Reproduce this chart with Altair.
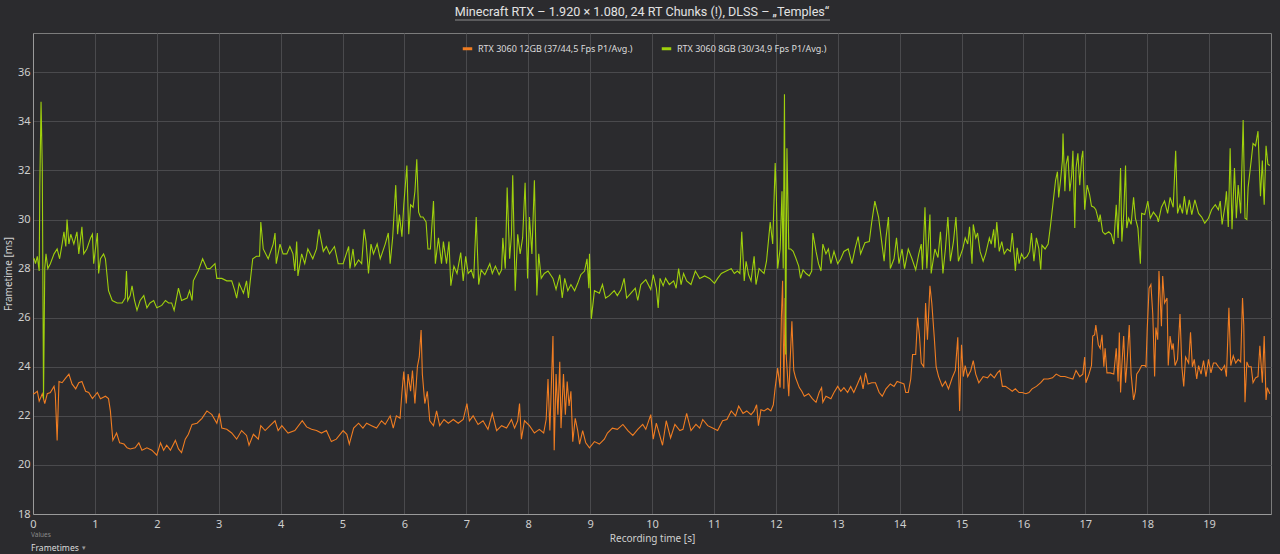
import altair as alt
import pandas as pd

NAME_12 = "RTX 3060 12GB (37/44,5 Fps P1/Avg.)"
NAME_8 = "RTX 3060 8GB (30/34,9 Fps P1/Avg.)"
TITLE = "Minecraft RTX \u2013 1.920 \u00d7 1.080, 24 RT Chunks (!), DLSS \u2013 \u201eTemples\u201c"

# (time [s], frametime [ms]), RTX 3060 8GB
g8_a = [(0.00, 28.4), (0.02, 28.4), (0.04, 28.2), (0.07, 28.5), (0.10, 27.9), (0.11, 31.3), (0.13, 34.8),
        (0.15, 32.1), (0.17, 22.7), (0.19, 28.0), (0.21, 28.6), (0.24, 28.0), (0.28, 28.2), (0.34, 28.6),
        (0.39, 28.8), (0.43, 28.4), (0.47, 29.0), (0.50, 29.5), (0.53, 28.9), (0.55, 30.0), (0.58, 29.0),
        (0.61, 29.4), (0.66, 29.0), (0.71, 29.5), (0.74, 28.6), (0.77, 29.25), (0.79, 29.7), (0.82, 28.6),
        (0.87, 28.8), (0.93, 29.25), (0.96, 29.4), (0.98, 28.2), (1.04, 29.45), (1.06, 27.8), (1.09, 28.4),
        (1.14, 28.6), (1.17, 28.4), (1.22, 27.1), (1.28, 26.7), (1.36, 26.6), (1.44, 26.6), (1.49, 26.8),
        (1.51, 27.9), (1.53, 26.7), (1.57, 26.9), (1.60, 27.3), (1.64, 26.7), (1.68, 26.3), (1.73, 26.7),
        (1.79, 26.9), (1.84, 26.4), (1.89, 26.6), (1.95, 26.7), (2.00, 26.4), (2.08, 26.5), (2.14, 26.7),
        (2.19, 26.6), (2.24, 26.6), (2.28, 26.3), (2.35, 27.2), (2.40, 26.7), (2.49, 26.8), (2.53, 27.1),
        (2.57, 26.7), (2.59, 27.5), (2.67, 27.9), (2.74, 28.4), (2.81, 28.0), (2.86, 28.0), (2.94, 28.2),
        (2.97, 27.6), (3.05, 27.6), (3.13, 27.5), (3.21, 27.5), (3.26, 27.1), (3.29, 26.8), (3.33, 27.4),
        (3.40, 27.0), (3.45, 27.5), (3.48, 26.8), (3.51, 27.5), (3.55, 28.4), (3.61, 28.5), (3.66, 28.5),
        (3.68, 29.9), (3.72, 28.8), (3.80, 28.4), (3.88, 29.0), (3.91, 29.45), (3.93, 28.2), (3.99, 29.0),
        (4.04, 28.6), (4.10, 28.6), (4.15, 28.9), (4.20, 28.6), (4.23, 27.9), (4.26, 29.1), (4.28, 27.7),
        (4.34, 28.6), (4.39, 28.2), (4.44, 28.8), (4.52, 28.4), (4.58, 28.8), (4.62, 29.6), (4.69, 28.7),
        (4.74, 28.9), (4.79, 28.6), (4.87, 28.9), (4.93, 28.2), (5.01, 28.2)]
g8_b = [(5.10, 28.9), (5.12, 28.0), (5.17, 28.8), (5.20, 28.1), (5.26, 28.35), (5.31, 28.2), (5.35, 29.6),
        (5.38, 29.1), (5.42, 27.8), (5.46, 29.0), (5.50, 28.6), (5.56, 29.0), (5.61, 28.4), (5.69, 29.0),
        (5.74, 29.45), (5.77, 28.2), (5.81, 29.25), (5.86, 31.4), (5.89, 29.4), (5.92, 30.2), (5.96, 29.3),
        (5.99, 30.6), (6.04, 32.2), (6.07, 29.4), (6.10, 30.6), (6.14, 30.5), (6.17, 31.15), (6.20, 32.45),
        (6.23, 30.3), (6.26, 30.1), (6.30, 30.1), (6.35, 29.9), (6.38, 28.8), (6.42, 28.8), (6.47, 30.75),
        (6.50, 28.2), (6.55, 29.25), (6.60, 28.2), (6.63, 29.1), (6.68, 28.2), (6.72, 29.1), (6.75, 27.3),
        (6.80, 28.1), (6.85, 27.8), (6.91, 28.65), (6.95, 27.5), (6.99, 28.5), (7.03, 27.8), (7.08, 27.95),
        (7.12, 27.6), (7.16, 30.1), (7.20, 27.35), (7.24, 27.95), (7.30, 27.75), (7.38, 28.2), (7.42, 27.8),
        (7.47, 28.1), (7.53, 27.75), (7.57, 27.95), (7.59, 29.25), (7.63, 28.0), (7.66, 31.3), (7.70, 28.4),
        (7.73, 29.4), (7.75, 31.8), (7.79, 27.1), (7.83, 29.4), (7.87, 28.6), (7.91, 29.25), (7.95, 31.5),
        (7.98, 28.6), (7.99, 27.6), (8.02, 30.1), (8.06, 28.6), (8.10, 31.6), (8.14, 26.9), (8.17, 28.6),
        (8.21, 27.6), (8.26, 27.8), (8.32, 27.9), (8.40, 27.6), (8.45, 27.15), (8.51, 27.75), (8.55, 26.8),
        (8.59, 27.6), (8.64, 27.1), (8.69, 27.35), (8.75, 27.1), (8.80, 27.4), (8.85, 27.75), (8.91, 27.9),
        (8.95, 28.4), (8.98, 27.2), (8.99, 28.6), (9.02, 25.95), (9.07, 27.1), (9.15, 27.0), (9.20, 27.35),
        (9.25, 26.8), (9.31, 26.9), (9.39, 27.1), (9.44, 26.9), (9.50, 27.15), (9.55, 27.6), (9.59, 26.8),
        (9.66, 27.0), (9.73, 27.2), (9.77, 26.7), (9.82, 27.35), (9.90, 27.55), (9.98, 27.15)]
g8_c = [(10.02, 27.75), (10.07, 27.2), (10.10, 26.4), (10.13, 27.6), (10.18, 27.3), (10.22, 27.6),
        (10.28, 27.35), (10.35, 27.5), (10.39, 27.2), (10.43, 28.0), (10.47, 27.35), (10.51, 27.8),
        (10.56, 27.5), (10.63, 27.35), (10.70, 27.9), (10.77, 27.6), (10.85, 27.7), (10.93, 27.6),
        (11.01, 27.4), (11.06, 27.6), (11.12, 27.8), (11.20, 27.9), (11.28, 28.0), (11.33, 27.8),
        (11.38, 27.9), (11.42, 27.8), (11.45, 29.5), (11.49, 27.5), (11.52, 28.3), (11.56, 27.75),
        (11.60, 27.5), (11.65, 28.5), (11.68, 27.35), (11.73, 28.0), (11.81, 27.8), (11.85, 28.3),
        (11.91, 29.9), (11.95, 29.0), (11.99, 32.3), (12.01, 30.9), (12.03, 28.0), (12.07, 28.8),
        (12.10, 31.15), (12.12, 28.0), (12.14, 35.1), (12.16, 24.5), (12.18, 32.9), (12.21, 28.8),
        (12.24, 28.8), (12.28, 28.7), (12.32, 28.45), (12.37, 28.1), (12.40, 27.6), (12.44, 27.95),
        (12.49, 27.8), (12.54, 27.7), (12.58, 27.9), (12.60, 29.45), (12.65, 28.7), (12.69, 28.2),
        (12.73, 27.9), (12.76, 29.0), (12.81, 28.6), (12.85, 28.8), (12.89, 28.2), (12.94, 28.7),
        (13.00, 28.2), (13.05, 28.4), (13.10, 28.7), (13.17, 28.8), (13.23, 28.2), (13.28, 28.8),
        (13.33, 29.3), (13.37, 28.6), (13.44, 29.05), (13.51, 29.1), (13.55, 29.9), (13.60, 30.75),
        (13.66, 30.1), (13.71, 29.1), (13.75, 28.3), (13.78, 29.25), (13.82, 30.1), (13.85, 28.0),
        (13.91, 28.4), (13.95, 29.25), (13.99, 28.2), (14.04, 28.8), (14.08, 28.0), (14.14, 28.8),
        (14.20, 28.4), (14.26, 27.95), (14.31, 28.6), (14.35, 29.0), (14.37, 27.95), (14.41, 30.5),
        (14.44, 28.0), (14.49, 30.2), (14.51, 27.8), (14.57, 28.8), (14.62, 28.45), (14.66, 29.5),
        (14.70, 27.8), (14.74, 28.8), (14.78, 30.1), (14.82, 28.3), (14.87, 29.1), (14.91, 30.1),
        (14.95, 28.3)]
g8_d = [(15.02, 28.8), (15.06, 29.25), (15.10, 29.0), (15.13, 29.7), (15.17, 28.2), (15.19, 29.8),
        (15.23, 29.25), (15.26, 29.45), (15.30, 28.7), (15.35, 28.3), (15.39, 28.6), (15.45, 29.25),
        (15.48, 29.0), (15.52, 29.6), (15.54, 28.85), (15.57, 29.9), (15.61, 28.7), (15.65, 29.1),
        (15.69, 28.6), (15.74, 28.8), (15.79, 28.7), (15.82, 29.45), (15.85, 28.6), (15.87, 27.9),
        (15.90, 28.85), (15.93, 28.2), (15.97, 28.6), (16.01, 28.4), (16.06, 28.5), (16.10, 28.7),
        (16.13, 29.45), (16.17, 28.3), (16.21, 29.25), (16.25, 28.8), (16.28, 27.95), (16.30, 28.95),
        (16.35, 28.8), (16.40, 29.0), (16.44, 29.8), (16.48, 30.7), (16.52, 31.6), (16.55, 31.95),
        (16.57, 30.9), (16.60, 31.6), (16.63, 32.4), (16.64, 33.5), (16.67, 31.15), (16.69, 32.25),
        (16.72, 32.6), (16.75, 31.15), (16.78, 31.8), (16.80, 32.8), (16.83, 29.65), (16.85, 32.1),
        (16.88, 32.7), (16.91, 31.4), (16.94, 32.5), (16.96, 32.8), (16.99, 30.4), (17.03, 31.4),
        (17.07, 31.0), (17.10, 30.55), (17.14, 30.5), (17.17, 30.4), (17.22, 29.9), (17.24, 30.2),
        (17.28, 29.5), (17.32, 29.4), (17.38, 29.5), (17.42, 29.4), (17.46, 29.0), (17.50, 30.6),
        (17.53, 29.25), (17.57, 32.1), (17.59, 29.1), (17.62, 30.2), (17.65, 32.2), (17.67, 29.65),
        (17.70, 30.05), (17.74, 29.8), (17.78, 30.9), (17.81, 30.05), (17.85, 29.65), (17.89, 28.2),
        (17.91, 30.25), (17.96, 30.2), (18.01, 30.75), (18.05, 30.05), (18.10, 30.3), (18.16, 30.1),
        (18.18, 29.9), (18.23, 30.5), (18.28, 30.75), (18.33, 30.25), (18.37, 30.9), (18.42, 30.5),
        (18.46, 32.8), (18.49, 30.25), (18.53, 30.6), (18.57, 30.25), (18.60, 30.95), (18.64, 30.2),
        (18.68, 30.8), (18.72, 30.2), (18.77, 30.8), (18.83, 30.25), (18.88, 30.1), (18.93, 29.85),
        (18.99, 30.05), (19.04, 30.4), (19.10, 30.6), (19.15, 30.4), (19.18, 30.75), (19.21, 29.8),
        (19.26, 30.6), (19.28, 31.15), (19.31, 29.7), (19.34, 32.9), (19.37, 29.6), (19.41, 32.1),
        (19.44, 30.05), (19.47, 31.4), (19.51, 30.25), (19.55, 34.05), (19.58, 30.05), (19.61, 30.0),
        (19.63, 31.3), (19.68, 32.4), (19.71, 33.1), (19.75, 33.0), (19.79, 33.6), (19.83, 30.95),
        (19.86, 32.4), (19.89, 30.6), (19.92, 33.0), (19.95, 32.25), (19.98, 32.2)]

# (time [s], frametime [ms]), RTX 3060 12GB
o12_a = [(0.00, 22.9), (0.02, 22.9), (0.07, 23.0), (0.10, 22.6), (0.15, 22.9), (0.19, 22.5), (0.23, 22.9),
         (0.28, 22.95), (0.34, 23.2), (0.36, 22.9), (0.39, 21.0), (0.42, 23.4), (0.47, 23.35), (0.53, 23.55),
         (0.58, 23.7), (0.63, 23.3), (0.69, 23.1), (0.74, 23.35), (0.79, 23.4), (0.85, 23.0), (0.90, 22.95),
         (0.96, 22.7), (1.04, 22.95), (1.09, 22.7), (1.17, 22.8), (1.22, 22.7), (1.25, 22.2), (1.29, 21.0),
         (1.35, 21.3), (1.40, 20.9), (1.47, 20.85), (1.52, 20.7), (1.57, 20.65), (1.65, 20.7), (1.71, 20.9),
         (1.76, 20.6), (1.84, 20.7), (1.92, 20.6), (2.00, 20.4), (2.06, 20.9), (2.11, 20.6), (2.16, 20.8),
         (2.22, 20.6), (2.30, 21.0), (2.35, 20.65), (2.40, 20.5), (2.46, 21.05), (2.51, 21.25), (2.57, 21.65),
         (2.65, 21.7), (2.73, 21.9), (2.81, 22.2), (2.89, 22.05), (2.97, 21.7), (3.01, 22.1), (3.05, 21.5),
         (3.13, 21.45), (3.21, 21.3), (3.29, 21.05), (3.37, 21.4), (3.45, 21.2), (3.49, 20.8), (3.56, 21.25),
         (3.64, 21.05), (3.68, 21.6), (3.75, 21.4), (3.83, 21.6), (3.91, 21.8), (3.96, 21.4), (4.02, 21.6),
         (4.12, 21.3), (4.23, 21.4), (4.35, 21.8), (4.42, 21.55), (4.50, 21.45), (4.58, 21.4), (4.66, 21.3),
         (4.74, 21.4), (4.82, 20.95), (4.90, 21.05), (5.01, 21.4)]
o12_b = [(5.07, 21.25), (5.11, 20.85), (5.18, 21.5), (5.26, 21.7), (5.33, 21.5), (5.39, 21.7), (5.47, 21.6),
         (5.55, 21.5), (5.63, 21.8), (5.69, 21.65), (5.77, 22.0), (5.82, 21.5), (5.87, 22.0), (5.93, 21.9),
         (5.96, 22.95), (5.99, 23.8), (6.03, 22.5), (6.06, 23.7), (6.10, 23.0), (6.13, 23.85), (6.17, 22.5),
         (6.21, 24.0), (6.24, 24.4), (6.27, 25.5), (6.29, 23.7), (6.33, 22.5), (6.37, 23.0), (6.41, 21.8),
         (6.47, 21.6), (6.52, 22.2), (6.57, 21.6), (6.64, 21.85), (6.71, 21.7), (6.79, 21.85), (6.87, 21.7),
         (6.95, 21.85), (7.01, 22.5), (7.05, 21.8), (7.11, 22.0), (7.19, 21.65), (7.27, 21.8), (7.35, 21.45),
         (7.42, 22.1), (7.49, 21.4), (7.57, 21.6), (7.65, 21.5), (7.73, 21.85), (7.78, 21.5), (7.83, 21.8),
         (7.86, 22.5), (7.89, 21.05), (7.94, 21.8), (8.02, 21.6), (8.10, 21.3), (8.18, 21.45), (8.25, 21.3),
         (8.29, 21.85), (8.32, 23.5), (8.35, 21.4), (8.40, 25.25), (8.42, 20.6), (8.45, 23.7), (8.48, 22.05),
         (8.51, 24.2), (8.53, 21.5), (8.57, 23.7), (8.60, 22.05), (8.63, 23.4), (8.66, 22.4), (8.69, 23.0),
         (8.72, 20.95), (8.76, 21.9), (8.80, 21.4), (8.83, 20.85), (8.88, 21.4), (8.93, 20.9), (8.99, 20.7),
         (9.07, 20.95), (9.15, 20.85), (9.23, 21.05), (9.28, 21.3), (9.36, 21.5), (9.44, 21.45), (9.53, 21.65),
         (9.61, 21.4), (9.69, 21.2), (9.77, 21.45), (9.85, 21.65), (9.90, 21.45), (9.98, 22.05)]
o12_c = [(10.02, 21.05), (10.07, 21.7), (10.12, 21.25), (10.17, 20.8), (10.23, 21.8), (10.30, 21.1),
         (10.37, 21.65), (10.45, 21.4), (10.50, 21.45), (10.56, 22.1), (10.63, 21.4), (10.71, 21.65),
         (10.77, 21.5), (10.82, 21.85), (10.90, 21.6), (10.98, 21.5), (11.06, 21.4), (11.14, 21.8),
         (11.21, 21.85), (11.28, 22.2), (11.35, 22.0), (11.40, 22.4), (11.47, 22.1), (11.53, 22.2),
         (11.60, 22.05), (11.65, 22.2), (11.69, 22.45), (11.72, 21.6), (11.76, 22.25), (11.81, 22.2),
         (11.87, 22.3), (11.92, 22.2), (11.96, 22.45), (11.99, 23.15), (12.03, 23.95), (12.07, 23.15),
         (12.09, 26.0), (12.11, 27.5), (12.13, 23.1), (12.15, 26.8), (12.17, 24.4), (12.21, 22.8),
         (12.23, 24.15), (12.26, 25.85), (12.29, 23.85), (12.32, 23.55), (12.38, 23.15), (12.42, 23.0),
         (12.46, 22.8), (12.53, 22.9), (12.59, 22.7), (12.65, 22.55), (12.70, 22.95), (12.74, 23.15),
         (12.76, 22.55), (12.81, 22.8), (12.89, 22.7), (12.94, 22.95), (13.00, 23.2), (13.05, 23.0),
         (13.10, 23.15), (13.16, 22.95), (13.21, 23.2), (13.26, 22.95), (13.32, 23.3), (13.37, 23.6),
         (13.41, 23.1), (13.45, 23.75), (13.49, 23.3), (13.55, 23.35), (13.61, 23.35), (13.67, 22.95),
         (13.72, 22.8), (13.78, 23.1), (13.85, 23.3), (13.91, 23.2), (13.96, 23.4), (14.02, 23.35),
         (14.07, 23.3), (14.10, 22.95), (14.14, 22.95), (14.18, 23.5), (14.21, 24.5), (14.26, 24.5),
         (14.29, 26.0), (14.32, 25.3), (14.35, 24.15), (14.39, 24.0), (14.42, 26.6), (14.45, 25.1),
         (14.49, 27.3), (14.52, 26.6), (14.56, 25.2), (14.59, 24.0), (14.63, 23.6), (14.69, 23.2),
         (14.74, 23.4), (14.79, 23.1), (14.85, 23.55), (14.90, 23.85), (14.94, 25.2), (14.97, 22.2),
         (15.00, 24.9), (15.03, 23.6), (15.06, 24.05), (15.10, 23.6)]
o12_d = [(15.15, 23.85), (15.19, 24.25), (15.23, 23.7), (15.28, 23.35), (15.35, 23.6), (15.42, 23.55),
         (15.47, 23.7), (15.53, 23.55), (15.58, 23.75), (15.62, 23.85), (15.66, 23.2), (15.71, 23.2),
         (15.77, 23.1), (15.82, 23.0), (15.87, 23.1), (15.93, 22.95), (15.98, 22.95), (16.04, 22.9),
         (16.09, 22.95), (16.14, 23.1), (16.21, 23.2), (16.28, 23.35), (16.33, 23.5), (16.40, 23.5),
         (16.47, 23.55), (16.53, 23.7), (16.60, 23.6), (16.67, 23.6), (16.73, 23.55), (16.80, 23.5),
         (16.85, 23.85), (16.91, 23.6), (16.96, 23.7), (16.99, 24.4), (17.01, 23.35), (17.06, 23.7),
         (17.10, 24.05), (17.12, 25.25), (17.15, 25.3), (17.17, 25.7), (17.21, 24.9), (17.24, 24.75),
         (17.27, 25.3), (17.30, 24.0), (17.32, 24.75), (17.35, 23.75), (17.40, 23.75), (17.46, 23.7),
         (17.50, 24.75), (17.53, 23.4), (17.55, 25.4), (17.57, 22.95), (17.59, 24.05), (17.62, 25.25),
         (17.65, 23.35), (17.67, 24.0), (17.71, 25.7), (17.74, 23.7), (17.78, 22.65), (17.81, 23.0),
         (17.83, 23.7), (17.87, 23.85), (17.91, 24.05), (17.96, 24.05), (17.98, 24.0), (18.00, 25.5),
         (18.03, 27.2), (18.06, 27.35), (18.09, 26.15), (18.12, 23.6), (18.14, 25.6), (18.17, 25.1),
         (18.19, 27.9), (18.23, 25.65), (18.25, 27.7), (18.28, 26.6), (18.32, 26.8), (18.34, 24.05),
         (18.37, 25.25), (18.40, 24.7), (18.42, 24.95), (18.45, 24.05), (18.49, 24.3), (18.53, 26.15),
         (18.56, 24.0), (18.59, 23.2), (18.62, 24.4), (18.67, 24.15), (18.70, 25.4), (18.73, 24.0),
         (18.76, 24.3), (18.80, 23.5), (18.83, 24.05), (18.87, 23.7), (18.91, 24.25), (18.95, 23.6),
         (18.99, 24.3), (19.03, 23.75), (19.07, 24.15), (19.11, 24.15), (19.15, 24.0), (19.20, 23.85),
         (19.25, 24.05), (19.28, 23.6), (19.32, 26.4), (19.35, 24.05), (19.39, 24.45), (19.43, 24.15),
         (19.47, 24.3), (19.51, 24.2), (19.54, 26.8), (19.56, 25.7), (19.58, 22.55), (19.61, 24.2),
         (19.64, 24.0), (19.68, 24.0), (19.71, 23.35), (19.75, 23.55), (19.79, 23.6), (19.82, 24.85),
         (19.86, 23.35), (19.89, 25.25), (19.92, 22.65), (19.94, 23.15), (19.98, 22.9)]

x_ticks = list(range(0, 20))
y_ticks = list(range(18, 37, 2))

rows = []
for seg in (o12_a, o12_b, o12_c, o12_d):
    rows += [{"t": t, "ft": v, "series": NAME_12} for t, v in seg]
for seg in (g8_a, g8_b, g8_c, g8_d):
    rows += [{"t": t, "ft": v, "series": NAME_8} for t, v in seg]
df = pd.DataFrame(rows)

FONT = "Noto Sans"
BG = "#2b2b2e"
W, H = 1238, 481

lines = alt.Chart(df).mark_line(strokeWidth=1.1, clip=True).encode(
    x=alt.X("t:Q", scale=alt.Scale(domain=[0, 20], nice=False),
            axis=alt.Axis(values=x_ticks, title="Recording time [s]", labelFlush=False,
                          gridColor="#4a4a4d", grid=True)),
    y=alt.Y("ft:Q", scale=alt.Scale(domain=[18, 37.6], nice=False, zero=False),
            axis=alt.Axis(values=y_ticks, title="Frametime [ms]", gridColor="#4a4a4d")),
    color=alt.Color("series:N",
                    scale=alt.Scale(domain=[NAME_12, NAME_8], range=["#f07d22", "#9fd00c"]),
                    legend=alt.Legend(title=None, orient="none", legendX=428, legendY=9,
                                      direction="horizontal", symbolType="stroke",
                                      symbolStrokeWidth=3, symbolSize=90, labelColor="#dcdcdc",
                                      labelFont=FONT, labelFontSize=9, columnPadding=22,
                                      labelLimit=400, symbolOffset=0)),
)

one = pd.DataFrame({"k": [0]})
title_txt = alt.Chart(one).mark_text(align="center", baseline="middle", font="Roboto", fontSize=12.6,
                                     color="#e2e2e2").encode(
    x=alt.value(609), y=alt.value(-21), text=alt.value(TITLE))
underline = alt.Chart(one).mark_rule(color="#8c8c8c", strokeWidth=1).encode(
    x=alt.value(422), x2=alt.value(797), y=alt.value(-13))
values_txt = alt.Chart(one).mark_text(align="left", baseline="middle", font=FONT, fontSize=6.5,
                                      color="#8a8a8a").encode(
    x=alt.value(-2), y=alt.value(H + 21), text=alt.value("Values"))
frames_txt = alt.Chart(one).mark_text(align="left", baseline="middle", font=FONT, fontSize=8.6,
                                      color="#dcdcdc").encode(
    x=alt.value(-2), y=alt.value(H + 34), text=alt.value("Frametimes"))
arrow_txt = alt.Chart(one).mark_text(align="left", baseline="middle", font=FONT, fontSize=7,
                                     color="#9a9a9a").encode(
    x=alt.value(49), y=alt.value(H + 34), text=alt.value("\u25be"))

chart = alt.layer(lines, title_txt, underline, values_txt, frames_txt, arrow_txt).properties(
    width=W, height=H,
    background=BG,
    padding={"left": 33, "top": 33, "right": 9, "bottom": 40},
    autosize=alt.AutoSizeParams(type="none"),
).configure_view(stroke="#7c7c7c", strokeWidth=1, fill=BG).configure_axis(
    labelFont=FONT, labelFontSize=11, labelColor="#cfcfcf", titleFont=FONT, titleFontSize=10,
    titleFontWeight="normal", titleColor="#cfcfcf", domainColor="#9a9a9a", ticks=False,
    gridWidth=1, labelPadding=4,
).configure_axisY(titlePadding=4, labelPadding=3).configure_axisX(titlePadding=4)

chart.save("out.html", embed_options={"renderer": "svg", "actions": False})
